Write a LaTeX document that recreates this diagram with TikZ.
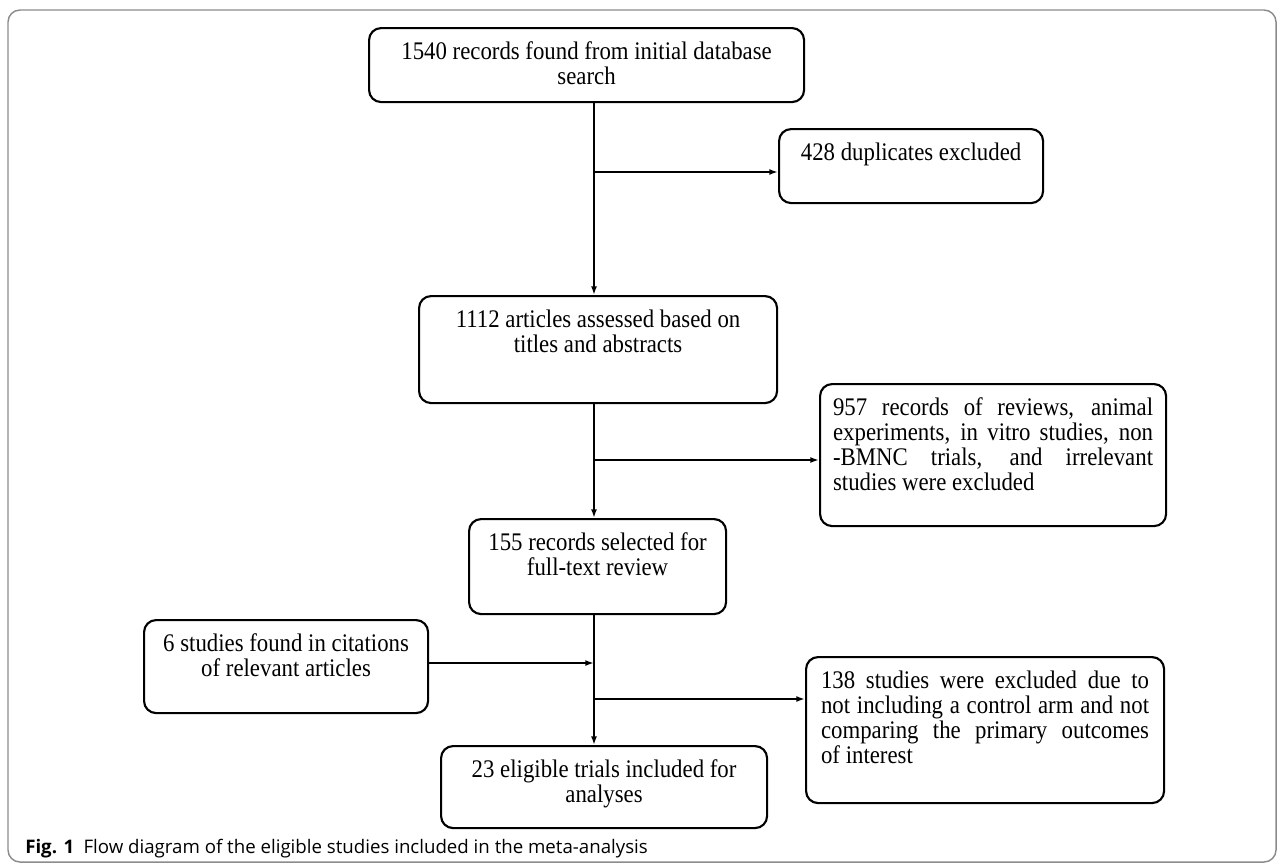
\documentclass[tikz,border=0pt]{standalone}
\usepackage{fontspec}
\setmainfont{Liberation Serif}[FakeStretch=0.9]
\newfontfamily\capfont{Open Sans}
\usepackage{tikz}
\usetikzlibrary{arrows.meta}
\definecolor{framegray}{HTML}{8C8C8C}
\newlength\px
\setlength\px{0.75bp}
% box text: width, height (px), first baseline fixed from the top
\newcommand{\cbox}[3]{\parbox[c][#2\px][t]{#1\px}{\centering\rule{0pt}{23.25bp}#3}}
\newcommand{\jbox}[3]{\parbox[c][#2\px][t]{#1\px}{\rule{0pt}{23.25bp}#3}}

\begin{document}
\begin{tikzpicture}[x=\px,y=-\px,>={Latex[length=6.5bp,width=4.5bp]},
  every node/.style={font=\fontsize{19bp}{18.75bp}\selectfont},
  flowbox/.style={draw,line width=1.6bp,rounded corners=9bp,inner xsep=12\px,inner ysep=0pt,anchor=north west},
  link/.style={line width=1.4bp}]
\useasboundingbox (0,0) rectangle (1284,864);
\draw[framegray,line width=1.1bp,rounded corners=9bp] (8,10) rectangle (1276,862);
\node[flowbox] (A) at (368,27) {\cbox{411}{74}{1540 records found from initial database\\ search}};
\node[flowbox] (B) at (778,128) {\cbox{240}{74}{428 duplicates excluded}};
\node[flowbox] (C) at (418,295) {\cbox{334}{107}{1112 articles assessed based on\\ titles and abstracts}};
\node[flowbox,inner xsep=13\px] (E) at (819,383) {\jbox{320}{142}{957 records of reviews, animal\linebreak experiments, in vitro studies, non\linebreak -BMNC trials, and irrelevant\linebreak studies were excluded}};
\node[flowbox] (D) at (468,518) {\cbox{233}{95}{155 records selected for\\ full-text review}};
\node[flowbox] (F) at (143,619) {\cbox{260}{93}{6 studies found in citations\\ of relevant articles}};
\node[flowbox,inner xsep=15\px] (H) at (805,656) {\jbox{328}{146}{138 studies were excluded due to\linebreak not including a control arm and not\linebreak comparing the primary outcomes\linebreak of interest}};
\node[flowbox] (G) at (440,745) {\cbox{302}{82}{23 eligible trials included for\\ analyses}};
\coordinate (s1) at (594,172);
\coordinate (s2) at (594,460);
\coordinate (s3) at (594,663);
\coordinate (s4) at (594,699);
\draw[link,->] (A.south -| s1) -- (C.north -| s1);
\draw[link,->] (s1) -- (s1 -| B.west);
\draw[link,->] (C.south -| s2) -- (D.north -| s2);
\draw[link,->] (s2) -- (s2 -| E.west);
\draw[link,->] (D.south -| s3) -- (G.north -| s3);
\draw[link,->] (F.east |- s3) -- (s3);
\draw[link,->] (s4) -- (s4 -| H.west);
\node[anchor=base west,inner sep=0pt,font=\capfont\fontsize{14bp}{16bp}\selectfont] (cap) at (25,853) {\textbf{Fig. 1}\hspace{0.5em}Flow diagram of the eligible studies included in the meta-analysis};
\end{tikzpicture}
\end{document}
